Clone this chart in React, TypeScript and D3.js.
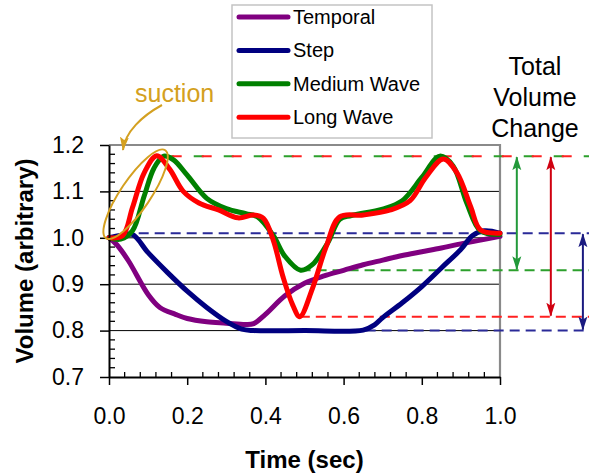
import React, { useEffect, useRef } from 'react';
import * as d3 from 'd3';

const WIDTH = 589;
const HEIGHT = 475;

// time (sec) and volume (arbitrary) for each stimulus
const temporalTime = [0, 0.02, 0.05, 0.1, 0.13, 0.17, 0.2, 0.25, 0.3, 0.35, 0.37, 0.4, 0.45, 0.5, 0.55, 0.6, 0.65, 0.7, 0.75, 0.8, 0.85, 0.9, 0.95, 1.0];
const temporalVolume = [1.0, 0.985, 0.95, 0.878, 0.85, 0.835, 0.826, 0.819, 0.816, 0.813, 0.815, 0.835, 0.875, 0.902, 0.918, 0.93, 0.942, 0.952, 0.962, 0.97, 0.978, 0.987, 0.995, 1.003];

const stepTime = [0, 0.03, 0.06, 0.1, 0.15, 0.2, 0.25, 0.3, 0.34, 0.37, 0.5, 0.65, 0.68, 0.7, 0.75, 0.8, 0.85, 0.9, 0.93, 0.96, 1.0];
const stepVolume = [1.0, 1.005, 1.007, 0.968, 0.925, 0.885, 0.85, 0.82, 0.803, 0.8, 0.8, 0.801, 0.813, 0.828, 0.86, 0.895, 0.935, 0.975, 1.005, 1.015, 1.01];

const mediumTime = [0, 0.03, 0.06, 0.09, 0.115, 0.14, 0.165, 0.2, 0.25, 0.3, 0.35, 0.38, 0.42, 0.45, 0.49, 0.52, 0.56, 0.59, 0.62, 0.7, 0.75, 0.8, 0.846, 0.88, 0.915, 0.95, 1.0];
const mediumVolume = [1.0, 0.997, 1.015, 1.09, 1.15, 1.176, 1.168, 1.135, 1.085, 1.063, 1.052, 1.045, 1.005, 0.96, 0.93, 0.942, 0.99, 1.04, 1.048, 1.062, 1.08, 1.13, 1.176, 1.155, 1.075, 1.015, 1.007];

const longTime = [0, 0.035, 0.06, 0.09, 0.122, 0.155, 0.19, 0.23, 0.28, 0.33, 0.37, 0.395, 0.42, 0.445, 0.47, 0.488, 0.52, 0.555, 0.59, 0.65, 0.72, 0.77, 0.81, 0.855, 0.89, 0.925, 0.95, 1.0];
const longVolume = [1.0, 1.005, 1.065, 1.14, 1.177, 1.148, 1.1, 1.075, 1.06, 1.043, 1.049, 1.042, 0.995, 0.916, 0.855, 0.83, 0.89, 0.98, 1.045, 1.049, 1.06, 1.08, 1.13, 1.17, 1.14, 1.067, 1.017, 1.01];

const seriesNames = ['Temporal', 'Step', 'Medium Wave', 'Long Wave'];
const seriesTimes = [temporalTime, stepTime, mediumTime, longTime];
const seriesVolumes = [temporalVolume, stepVolume, mediumVolume, longVolume];
const seriesColors = ['#800080', '#000080', '#008000', '#ff0000'];

// total volume change markers (index into series)
const refSeries = [2, 3, 1, 2, 3, 1];
const refLevels = [1.176, 1.176, 1.01, 0.93, 0.83, 0.8];
const refStarts = [0.14, 0.122, 0.035, 0.49, 0.488, 0.37];
const refEnd = 1.23;
const refColors = ['', '#2a2a98', '#2ca02c', '#ff2020'];

const arrowSeries = [2, 3, 1];
const arrowTop = [1.176, 1.176, 1.01];
const arrowBottom = [0.93, 0.83, 0.8];
const arrowTime = [1.043, 1.13, 1.212];
const arrowColors = ['', '#1a1a80', '#22993a', '#d00010'];

const xTicks = [0, 0.2, 0.4, 0.6, 0.8, 1.0];
const yTicks = [0.7, 0.8, 0.9, 1.0, 1.1, 1.2];

const FONT = 'Liberation Sans, Arial, Helvetica, sans-serif';
const GOLD = '#d4a020';

const Chart = () => {
  const svgRef = useRef<SVGSVGElement>(null);

  useEffect(() => {
    const svg = d3.select(svgRef.current);
    svg.selectAll('*').remove();

    const x = d3.scaleLinear().domain([0, 1]).range([109, 500]);
    const y = d3.scaleLinear().domain([0.7, 1.2]).range([377, 145]);

    svg.append('rect').attr('width', WIDTH).attr('height', HEIGHT).attr('fill', '#fff');

    // arrow markers, one per colour
    const defs = svg.append('defs');
    const markerColors = [...arrowColors, GOLD];
    markerColors.forEach((c, i) => {
      if (!c) return;
      defs.append('marker')
        .attr('id', 'arrow' + i)
        .attr('markerUnits', 'userSpaceOnUse')
        .attr('markerWidth', 14)
        .attr('markerHeight', 10)
        .attr('refX', 13)
        .attr('refY', 5)
        .attr('orient', 'auto-start-reverse')
        .append('path')
        .attr('d', 'M0,0.5 L14,5 L0,9.5 L3,5 z')
        .attr('fill', c);
    });

    // gridlines
    svg.append('g').selectAll('line')
      .data(yTicks.filter(d => d > 0.75 && d < 1.15))
      .join('line')
      .attr('x1', x(0)).attr('x2', x(1))
      .attr('y1', d => y(d)).attr('y2', d => y(d))
      .attr('stroke', '#000').attr('stroke-width', 1);

    // plot border (top, right)
    svg.append('path')
      .attr('d', `M${x(0)},${y(1.2)}H${x(1)}V${y(0.7)}`)
      .attr('fill', 'none')
      .attr('stroke', '#8a8a8a')
      .attr('stroke-width', 2.2);

    // total volume change dashed levels
    refLevels.forEach((v, i) => {
      const s = refSeries[i];
      const top = v > 1.1;
      svg.append('line')
        .attr('x1', x(refStarts[i])).attr('x2', x(refEnd))
        .attr('y1', y(v)).attr('y2', y(v))
        .attr('stroke', refColors[s])
        .attr('stroke-width', 2)
        .attr('stroke-dasharray', top ? '10,20' : '10,6')
        .attr('stroke-dashoffset', top && s === 3 ? 15 : 0);
    });

    // curves
    const gen = d3.line<[number, number]>()
      .x(d => x(d[0]))
      .y(d => y(d[1]))
      .curve(d3.curveCatmullRom.alpha(0.5));
    seriesTimes.forEach((times, s) => {
      const pts: [number, number][] = times.map((t, i) => [t, seriesVolumes[s][i]]);
      svg.append('path')
        .datum(pts)
        .attr('fill', 'none')
        .attr('stroke', seriesColors[s])
        .attr('stroke-width', 5)
        .attr('stroke-linejoin', 'round')
        .attr('stroke-linecap', 'round')
        .attr('d', gen);
    });

    // minor ticks
    const minorY = d3.range(0, 26).filter(i => i % 5 !== 0).map(i => 0.7 + i * 0.02);
    svg.append('g').selectAll('line').data(minorY).join('line')
      .attr('x1', x(0)).attr('x2', x(0) + 6)
      .attr('y1', d => y(d)).attr('y2', d => y(d))
      .attr('stroke', '#000').attr('stroke-width', 1.3);
    const minorX = d3.range(0, 26).filter(i => i % 5 !== 0).map(i => i * 0.04);
    svg.append('g').selectAll('line').data(minorX).join('line')
      .attr('x1', d => x(d)).attr('x2', d => x(d))
      .attr('y1', y(0.7)).attr('y2', y(0.7) - 5)
      .attr('stroke', '#000').attr('stroke-width', 1.3);

    // axes
    svg.append('g')
      .attr('transform', `translate(0,${y(0.7)})`)
      .call(d3.axisBottom(x).tickValues(xTicks).tickSize(8).tickSizeOuter(0).tickPadding(23).tickFormat(d3.format('.1f')))
      .call(g => g.select('.domain').attr('stroke-width', 2))
      .call(g => g.selectAll('.tick line').attr('stroke-width', 1.5))
      .call(g => g.selectAll('text').attr('font-size', 23).attr('font-family', FONT).attr('fill', '#000'));

    svg.append('g')
      .attr('transform', `translate(${x(0)},0)`)
      .call(d3.axisLeft(y).tickValues(yTicks).tickSize(9).tickSizeOuter(0).tickPadding(16).tickFormat(d3.format('.1f')))
      .call(g => g.select('.domain').attr('stroke-width', 2))
      .call(g => g.selectAll('.tick line').attr('stroke-width', 1.5))
      .call(g => g.selectAll('text').attr('font-size', 23).attr('font-family', FONT).attr('fill', '#000'));

    // axis titles
    svg.append('text')
      .attr('transform', `translate(33,${(y(0.7) + y(1.2)) / 2}) rotate(-90)`)
      .attr('text-anchor', 'middle')
      .attr('font-family', FONT).attr('font-weight', 'bold').attr('font-size', 24)
      .text('Volume (arbitrary)');
    svg.append('text')
      .attr('x', (x(0) + x(1)) / 2).attr('y', 468)
      .attr('text-anchor', 'middle')
      .attr('font-family', FONT).attr('font-weight', 'bold').attr('font-size', 24)
      .text('Time (sec)');

    // total volume change arrows
    arrowTop.forEach((v, i) => {
      const s = arrowSeries[i];
      svg.append('line')
        .attr('x1', x(arrowTime[i])).attr('x2', x(arrowTime[i]))
        .attr('y1', y(v) + 1).attr('y2', y(arrowBottom[i]) - 1)
        .attr('stroke', arrowColors[s])
        .attr('stroke-width', 2)
        .attr('marker-start', `url(#arrow${s})`)
        .attr('marker-end', `url(#arrow${s})`);
    });

    svg.append('g')
      .attr('font-family', FONT).attr('font-size', 25).attr('text-anchor', 'middle')
      .selectAll('text').data(['Total', 'Volume', 'Change']).join('text')
      .attr('x', 535).attr('y', (d, i) => 75 + i * 31)
      .text(d => d);

    // suction annotation
    svg.append('text')
      .attr('x', 135).attr('y', 102)
      .attr('font-family', FONT).attr('font-size', 25).attr('fill', GOLD)
      .text('suction');
    svg.append('path')
      .attr('d', 'M162,105 C142,116 125,132 123,150')
      .attr('fill', 'none').attr('stroke', GOLD).attr('stroke-width', 2)
      .attr('marker-end', `url(#arrow${markerColors.length - 1})`);
    svg.append('ellipse')
      .attr('transform', `translate(${x(0.068)},${y(1.094)}) rotate(-56)`)
      .attr('rx', 53).attr('ry', 15)
      .attr('fill', 'none').attr('stroke', GOLD).attr('stroke-width', 2);

    // legend
    const legend = svg.append('g').attr('transform', 'translate(232,5)');
    legend.append('rect')
      .attr('width', 200).attr('height', 133)
      .attr('fill', '#fff').attr('stroke', '#c4c4c4').attr('stroke-width', 1.5);
    const items = legend.selectAll('g.item').data(seriesNames).join('g')
      .attr('class', 'item')
      .attr('transform', (d, i) => `translate(0,${12 + i * 33.4})`);
    items.append('line')
      .attr('x1', 7).attr('x2', 56)
      .attr('stroke', (d, i) => seriesColors[i])
      .attr('stroke-width', 5).attr('stroke-linecap', 'round');
    items.append('text')
      .attr('x', 61).attr('dy', '0.35em')
      .attr('font-family', FONT).attr('font-size', 20)
      .text(d => d);
  }, []);

  return (
    <svg ref={svgRef} width={WIDTH} height={HEIGHT} style={{ position: 'absolute', left: 0, top: 0 }}></svg>
  );
};

export default function App() {
  return <Chart />;
}
